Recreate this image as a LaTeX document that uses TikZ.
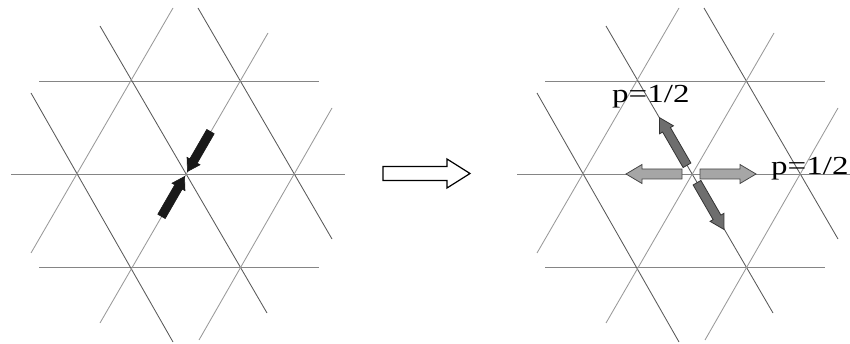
\documentclass[tikz,border=0pt]{standalone}
\usepackage{fontspec}
\setmainfont{Liberation Serif}
\usepackage{graphicx}
\usetikzlibrary{calc}
\tikzset{
  hline/.style={draw=black!48, line width=0.85pt},
  bline/.style={draw=black!65, line width=0.85pt},
  fline/.style={draw=black!40, line width=0.85pt},
  blackarrow/.style={fill=black!90, draw=black!90, line width=0.6pt, line join=miter},
  darkarrow/.style={fill=black!57, draw=black!80, line width=0.8pt},
  lightarrow/.style={fill=black!35, draw=black!72, line width=0.8pt},
  hollowarrow/.style={fill=white, draw=black, line width=1.2pt},
  plabel/.style={anchor=base west, inner sep=0pt, font=\fontsize{26}{26}\selectfont}
}
\newcommand{\blockarrow}[7]{%
  \begin{scope}[shift={(#2)}, rotate=#3]
    \path[#1] (0,-#5) -- ({#4-#7},-#5) -- ({#4-#7},-#6) -- (#4,0) -- ({#4-#7},#6) -- ({#4-#7},#5) -- (0,#5) -- cycle;
  \end{scope}}
\newcommand{\latticepatch}[1]{%
  \begin{scope}[xshift=#1]
    \draw[hline] (39,81) -- (319,81);
    \draw[hline] (11,174) -- (345,174);
    \draw[hline] (39,267) -- (319,267);
    \draw[bline] (100,26) -- (267,313);
    \draw[bline] (198,8) -- (332,239);
    \draw[bline] (31,93) -- (173,342);
    \draw[fline] (173,8) -- (31,253);
    \draw[fline] (268,33) -- (100,323);
    \draw[fline] (332,108) -- (199,340);
  \end{scope}}
\begin{document}
\begin{tikzpicture}[x=1pt, y=-1pt]
\useasboundingbox (0,0) rectangle (850,344);
% left lattice
\latticepatch{0pt}
\coordinate (c1) at (186,174);
\blockarrow{blackarrow}{$(c1)+(24.5,-42.4)$}{240}{46}{4.3}{7.5}{12}
\blockarrow{blackarrow}{$(c1)+(-24.5,42.4)$}{60}{46}{4.3}{7.5}{12}
% middle hollow arrow
\coordinate (h) at (383,173.5);
\blockarrow{hollowarrow}{h}{0}{87}{7}{14.5}{23}
% right lattice
\latticepatch{506pt}
\coordinate (c2) at (692,174);
\blockarrow{darkarrow}{$(c2)+(-5,-8.7)$}{120}{55}{4.5}{8}{14}
\blockarrow{darkarrow}{$(c2)+(5,8.7)$}{-60}{54}{4.5}{8}{14}
\blockarrow{lightarrow}{$(c2)+(-10,0)$}{180}{56}{5}{9.5}{16}
\blockarrow{lightarrow}{$(c2)+(8,0)$}{0}{56}{5}{9.5}{16}
\node[plabel] (p1) at (612,103) {\scalebox{1.27}[1]{p=1/2}};
\node[plabel] (p2) at (771,175) {\scalebox{1.27}[1]{p=1/2}};
\end{tikzpicture}
\end{document}
